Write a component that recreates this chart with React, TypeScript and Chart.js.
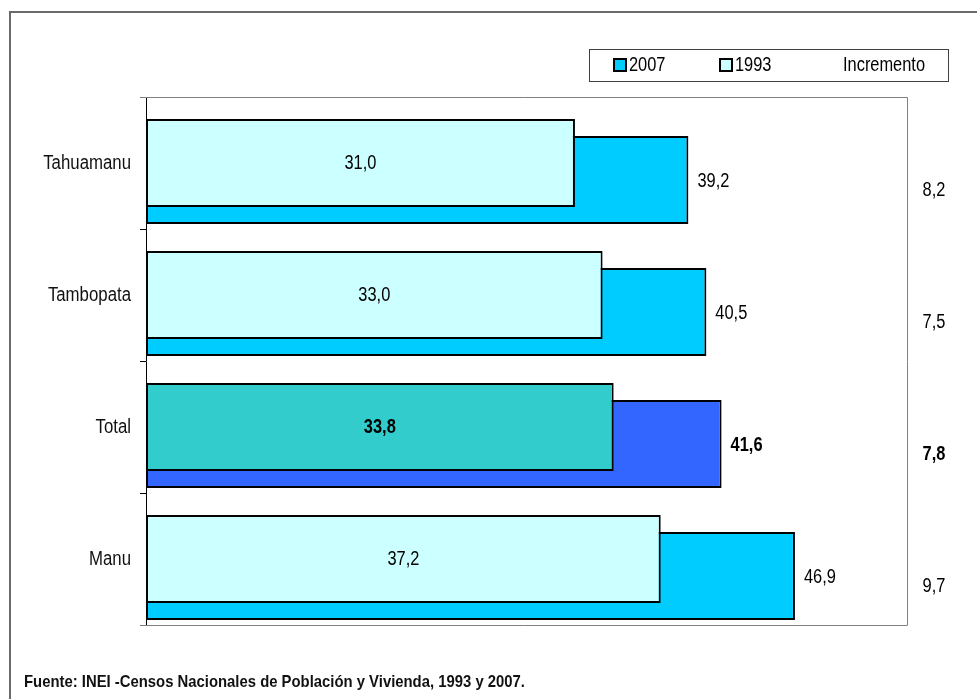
import React, { useEffect, useRef } from 'react';
import { Chart, registerables } from 'chart.js';

Chart.register(...registerables);

const categories = ['Tahuamanu', 'Tambopata', 'Total', 'Manu'];
const values1993 = [31.0, 33.0, 33.8, 37.2];
const values2007 = [39.2, 40.5, 41.6, 46.9];
const incremento = [8.2, 7.5, 7.8, 9.7];
const spacer = [null, null, null, null];
const legendLabels = ['2007', '1993', 'Incremento'];
const sourceNote = 'Fuente: INEI -Censos Nacionales de Población y Vivienda, 1993 y 2007.';
const highlightCategory = 'Total';

const FONT = '"Liberation Sans", Arial, sans-serif';
const NARROW = 0.82;
const C2007 = '#00CCFF';
const C1993 = '#CCFFFF';
const C2007_T = '#3366FF';
const C1993_T = '#33CCCC';

const fmt = (v: number) => v.toFixed(1).replace('.', ',');

function narrowText(ctx: any, text: string, x: number, y: number, align: string, font: string, color = '#000', sx = NARROW) {
  ctx.save();
  ctx.translate(x, y);
  ctx.scale(sx, 1);
  ctx.font = font;
  ctx.fillStyle = color;
  ctx.textAlign = align;
  ctx.textBaseline = 'middle';
  ctx.fillText(text, 0, 0);
  ctx.restore();
}

const decorPlugin = {
  id: 'decor',
  beforeDatasetsDraw(chart: any) {
    const { ctx, chartArea } = chart;
    ctx.save();
    ctx.strokeStyle = '#808080';
    ctx.lineWidth = 1;
    ctx.beginPath();
    ctx.moveTo(chartArea.left - 6, chartArea.top + 0.5);
    ctx.lineTo(chartArea.right + 0.5, chartArea.top + 0.5);
    ctx.lineTo(chartArea.right + 0.5, chartArea.bottom + 0.5);
    ctx.lineTo(chartArea.left - 6, chartArea.bottom + 0.5);
    ctx.stroke();
    ctx.restore();
  },
  afterDraw(chart: any) {
    const { ctx, chartArea } = chart;
    const yScale = chart.scales.y;
    ctx.save();
    // outer frame
    ctx.strokeStyle = '#6a6a6a';
    ctx.lineWidth = 2;
    ctx.beginPath();
    ctx.moveTo(10, 699);
    ctx.lineTo(10, 12);
    ctx.lineTo(977, 12);
    ctx.stroke();

    // category labels (via the y scale)
    categories.forEach((cat, i) => {
      narrowText(ctx, cat, chartArea.left - 15, yScale.getPixelForValue(i), 'right', '20px ' + FONT, '#111', 0.84);
    });

    // legend
    ctx.strokeStyle = '#404040';
    ctx.lineWidth = 1;
    ctx.strokeRect(589.5, 49.5, 359, 32);
    const legendItems = [
      { label: legendLabels[0], color: C2007, x: 614 },
      { label: legendLabels[1], color: C1993, x: 720 },
    ];
    legendItems.forEach((it) => {
      ctx.fillStyle = it.color;
      ctx.fillRect(it.x, 59, 12, 12);
      ctx.strokeStyle = '#000';
      ctx.lineWidth = 2;
      ctx.strokeRect(it.x, 59, 12, 12);
      narrowText(ctx, it.label, it.x + 15, 65, 'left', '20px ' + FONT);
    });
    narrowText(ctx, legendLabels[2], 843, 65, 'left', '20px ' + FONT);

    // data labels
    const m1993 = chart.getDatasetMeta(1);
    const m2007 = chart.getDatasetMeta(2);
    categories.forEach((cat, i) => {
      const bold = cat === highlightCategory;
      const f = (bold ? 'bold ' : '') + '20px ' + FONT;
      const e1 = m1993.data[i];
      narrowText(ctx, fmt(values1993[i]), (e1.x + e1.base) / 2, e1.y, 'center', f);
      const e2 = m2007.data[i];
      narrowText(ctx, fmt(values2007[i]), e2.x + 9, e2.y + 1, 'left', f);
      narrowText(ctx, fmt(incremento[i]), chartArea.right + 27, yScale.getPixelForValue(i) + 27, 'center', f);
    });

    // source note
    narrowText(ctx, sourceNote, 24, 682.5, 'left', 'bold 17px ' + FONT, '#111', 0.874);
    ctx.restore();
  },
};

export default function App() {
  const ref = useRef<HTMLCanvasElement | null>(null);
  useEffect(() => {
    if (!ref.current) return;
    const isHi = (i: number) => categories[i] === highlightCategory;
    const chart = new Chart(ref.current, {
      type: 'bar',
      data: {
        labels: categories,
        datasets: [
          {
            label: 'spacer',
            data: spacer as any,
            backgroundColor: 'rgba(0,0,0,0)',
            borderWidth: 0,
          },
          {
            label: legendLabels[1],
            data: values1993,
            backgroundColor: categories.map((_, i) => (isHi(i) ? C1993_T : C1993)),
            borderColor: '#000',
            borderWidth: 2,
            borderSkipped: false,
          },
          {
            label: legendLabels[0],
            data: values2007,
            backgroundColor: categories.map((_, i) => (isHi(i) ? C2007_T : C2007)),
            borderColor: '#000',
            borderWidth: 2,
            borderSkipped: false,
          },
        ],
      },
      options: {
        indexAxis: 'y',
        animation: false,
        responsive: false,
        devicePixelRatio: 1,
        layout: { padding: { top: 97, right: 70, bottom: 74, left: 0 } },
        datasets: {
          bar: { barPercentage: 88 / 17, categoryPercentage: 51 / 132 },
        },
        scales: {
          x: { type: 'linear', min: 0, max: 55, display: false },
          y: {
            type: 'category',
            offset: true,
            grid: {
              display: true,
              drawOnChartArea: false,
              drawTicks: true,
              tickLength: 6,
              color: '#000',
              offset: true,
            },
            border: { display: true, color: '#000', width: 1 },
            ticks: { display: false },
            afterFit: (scale: any) => {
              scale.width = 146;
            },
          },
        },
        plugins: { legend: { display: false }, tooltip: { enabled: false } },
      },
      plugins: [decorPlugin],
    } as any);
    return () => chart.destroy();
  }, []);
  return (
    <div style={{ position: 'fixed', left: 0, top: 0, width: 977, height: 699, background: '#fff' }}>
      <canvas ref={ref} width={977} height={699} style={{ width: 977, height: 699, display: 'block' }} />
    </div>
  );
}
